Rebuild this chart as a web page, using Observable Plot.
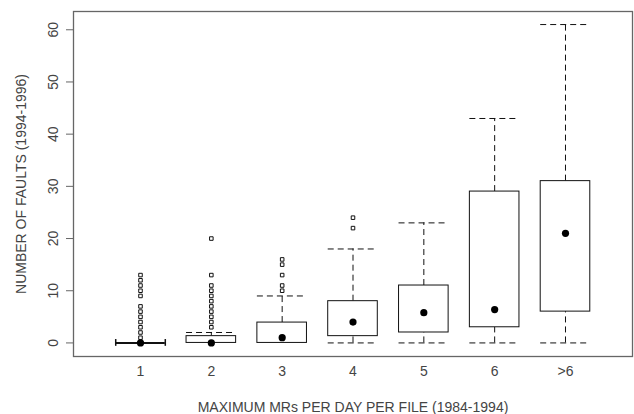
<!DOCTYPE html>
<html>
<head>
<meta charset="utf-8">
<script src="https://cdn.jsdelivr.net/npm/d3@7"></script>
<script src="https://cdn.jsdelivr.net/npm/@observablehq/plot@0.6"></script>
<style>
  html, body { margin: 0; padding: 0; background: #fff; }
  #chart svg { display: block; }
</style>
</head>
<body>
<div id="chart"></div>
<script>
// Categories (max MRs per day per file, 1984-1994)
const categories = ["1", "2", "3", "4", "5", "6", ">6"];
// Box statistics per category (number of faults 1994-1996)
const lowerWhisker = [0, 0, 0, 0, 0, 0, 0];
const q1Values     = [0, 0, 0, 1.3, 2, 3, 6];
const medianValues = [0, 0, 1, 4, 5.8, 6.4, 21];
const q3Values     = [0, 1.3, 3.9, 8, 11, 29, 31];
const upperWhisker = [0, 2, 9, 18, 23, 43, 61];
// Outliers per category
const outliers1 = [1, 2, 3, 4, 5, 6, 7, 9, 10, 11, 12, 13];
const outliers2 = [3, 4, 5, 6, 7, 8, 9, 10, 11, 13, 20];
const outliers3 = [10, 11, 13, 15, 16];
const outliers4 = [22, 24];
const yTicks = [0, 10, 20, 30, 40, 50, 60];

const half = 0.35;
const boxes = categories.map((c, k) => ({
  i: k + 1, cat: c,
  lo: lowerWhisker[k], q1: q1Values[k], med: medianValues[k], q3: q3Values[k], hi: upperWhisker[k]
}));
const outliers = [
  ...outliers1.map(v => ({i: 1, v})),
  ...outliers2.map(v => ({i: 2, v})),
  ...outliers3.map(v => ({i: 3, v})),
  ...outliers4.map(v => ({i: 4, v}))
];
const real = boxes.filter(d => d.q3 > d.q1);
const flat = boxes.filter(d => d.q3 === d.q1 && d.hi === d.q3);
const upper = boxes.filter(d => d.hi > d.q3);
const lower = boxes.filter(d => d.lo < d.q1);
const ink = "#111";
const dash = "6,4";

const chart = Plot.plot({
  width: 634,
  height: 414,
  marginLeft: 73,
  marginRight: 2,
  marginTop: 11,
  marginBottom: 58,
  style: {fontFamily: "'Liberation Sans', Arial, sans-serif", fontSize: "14px", color: "#444", background: "#fff"},
  x: {domain: [0.054, 7.946]},
  y: {domain: [-2.6, 63.5]},
  marks: [
    Plot.axisY({ticks: yTicks, tickSize: 7, tickPadding: 9, tickRotate: -90, stroke: "#666",
      label: "NUMBER OF FAULTS (1994-1996)", labelAnchor: "center", labelOffset: 57, labelArrow: "none"}),
    Plot.axisX({ticks: boxes.map(d => d.i), tickFormat: i => categories[i - 1], tickSize: 0, tickPadding: 10,
      label: "MAXIMUM MRs PER DAY PER FILE (1984-1994)", labelAnchor: "center", labelArrow: "none"}),
    Plot.frame({stroke: "#666", strokeWidth: 1.3}),
    // whiskers
    Plot.ruleX(upper, {x: "i", y1: "q3", y2: "hi", stroke: ink, strokeDasharray: dash}),
    Plot.ruleX(lower, {x: "i", y1: "lo", y2: "q1", stroke: ink, strokeDasharray: dash}),
    Plot.ruleY(upper, {y: "hi", x1: d => d.i - half, x2: d => d.i + half, stroke: ink, strokeDasharray: dash}),
    Plot.ruleY(lower, {y: "lo", x1: d => d.i - half, x2: d => d.i + half, stroke: ink, strokeDasharray: dash}),
    // boxes
    Plot.rect(real, {x1: d => d.i - half, x2: d => d.i + half, y1: "q1", y2: "q3", fill: "#fff", stroke: ink}),
    // degenerate box
    Plot.ruleY(flat, {y: "q1", x1: d => d.i - half, x2: d => d.i + half, stroke: ink, strokeWidth: 2}),
    Plot.ruleX(flat, {x: d => d.i - half, y1: d => d.q1 - 0.65, y2: d => d.q1 + 0.65, stroke: ink, strokeWidth: 1.5}),
    Plot.ruleX(flat, {x: d => d.i + half, y1: d => d.q1 - 0.65, y2: d => d.q1 + 0.65, stroke: ink, strokeWidth: 1.5}),
    // outliers
    Plot.dot(outliers, {x: "i", y: "v", symbol: "square", r: 2, stroke: ink, fill: "#fff", strokeWidth: 1}),
    // medians
    Plot.dot(boxes, {x: "i", y: "med", r: 3.6, fill: "#000", stroke: "none"})
  ]
});
document.getElementById("chart").appendChild(chart);
</script>
</body>
</html>
